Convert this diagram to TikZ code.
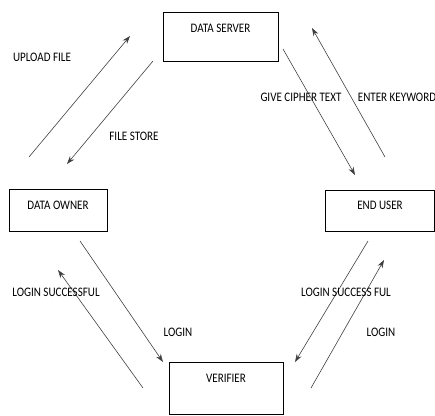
\documentclass[tikz,border=0pt]{standalone}
\usepackage{fontspec}
\setmainfont{Carlito}[FakeStretch=0.85]
\usetikzlibrary{arrows.meta}
\begin{document}
\begin{tikzpicture}[>={Stealth[length=8pt,width=5.5pt]},x=1pt,y=-1pt,font=\fontsize{13}{15}\selectfont,
  box/.style={draw,line width=0.7pt,anchor=north,inner xsep=0pt,inner ysep=0pt,text height=20pt},
  flow/.style={->,line width=0.6pt,black!75},
  lbl/.style={inner sep=0pt}]
\useasboundingbox (0,0) rectangle (435,415);
% boxes
\node[box,minimum width=115pt,text depth=29pt] (server) at (220.5,12) {DATA SERVER};
\node[box,minimum width=98pt,text depth=22pt] (owner) at (58,189) {DATA OWNER};
\node[box,minimum width=109pt,text height=19pt,text depth=22pt] (user) at (380,190) {END USER};
\node[box,minimum width=114pt,text depth=32pt] (verifier) at (226,362) {VERIFIER};
% arrow ends
\coordinate (up1) at (29,157);   \coordinate (up2) at (130,36);
\coordinate (st1) at (153,61);   \coordinate (st2) at (67,164);
\coordinate (ci1) at (283,49);   \coordinate (ci2) at (355,175);
\coordinate (kw1) at (385,157);  \coordinate (kw2) at (312,28);
\coordinate (ol1) at (80,241);   \coordinate (ol2) at (163,362);
\coordinate (os1) at (143,388);  \coordinate (os2) at (58,270);
\coordinate (us1) at (368,241);  \coordinate (us2) at (295,362);
\coordinate (ul1) at (311,388);  \coordinate (ul2) at (384,260);
\foreach \s/\t in {up1/up2,st1/st2,ci1/ci2,kw1/kw2,ol1/ol2,os1/os2,us1/us2,ul1/ul2}
  \draw[flow] (\s) -- (\t);
% labels
\node[lbl] (upload) at (42,57) {UPLOAD FILE};
\node[lbl] (store) at (134,136) {FILE STORE};
\node[lbl] (cipher) at (301,97) {GIVE CIPHER TEXT};
\node[lbl] (keyword) at (397,97) {ENTER KEYWORD};
\node[lbl] (osucc) at (56,292) {LOGIN SUCCESSFUL};
\node[lbl] (ologin) at (178,332) {LOGIN};
\node[lbl] (usucc) at (346,292) {LOGIN SUCCESS FUL};
\node[lbl] (ulogin) at (381,332) {LOGIN};
\end{tikzpicture}
\end{document}
